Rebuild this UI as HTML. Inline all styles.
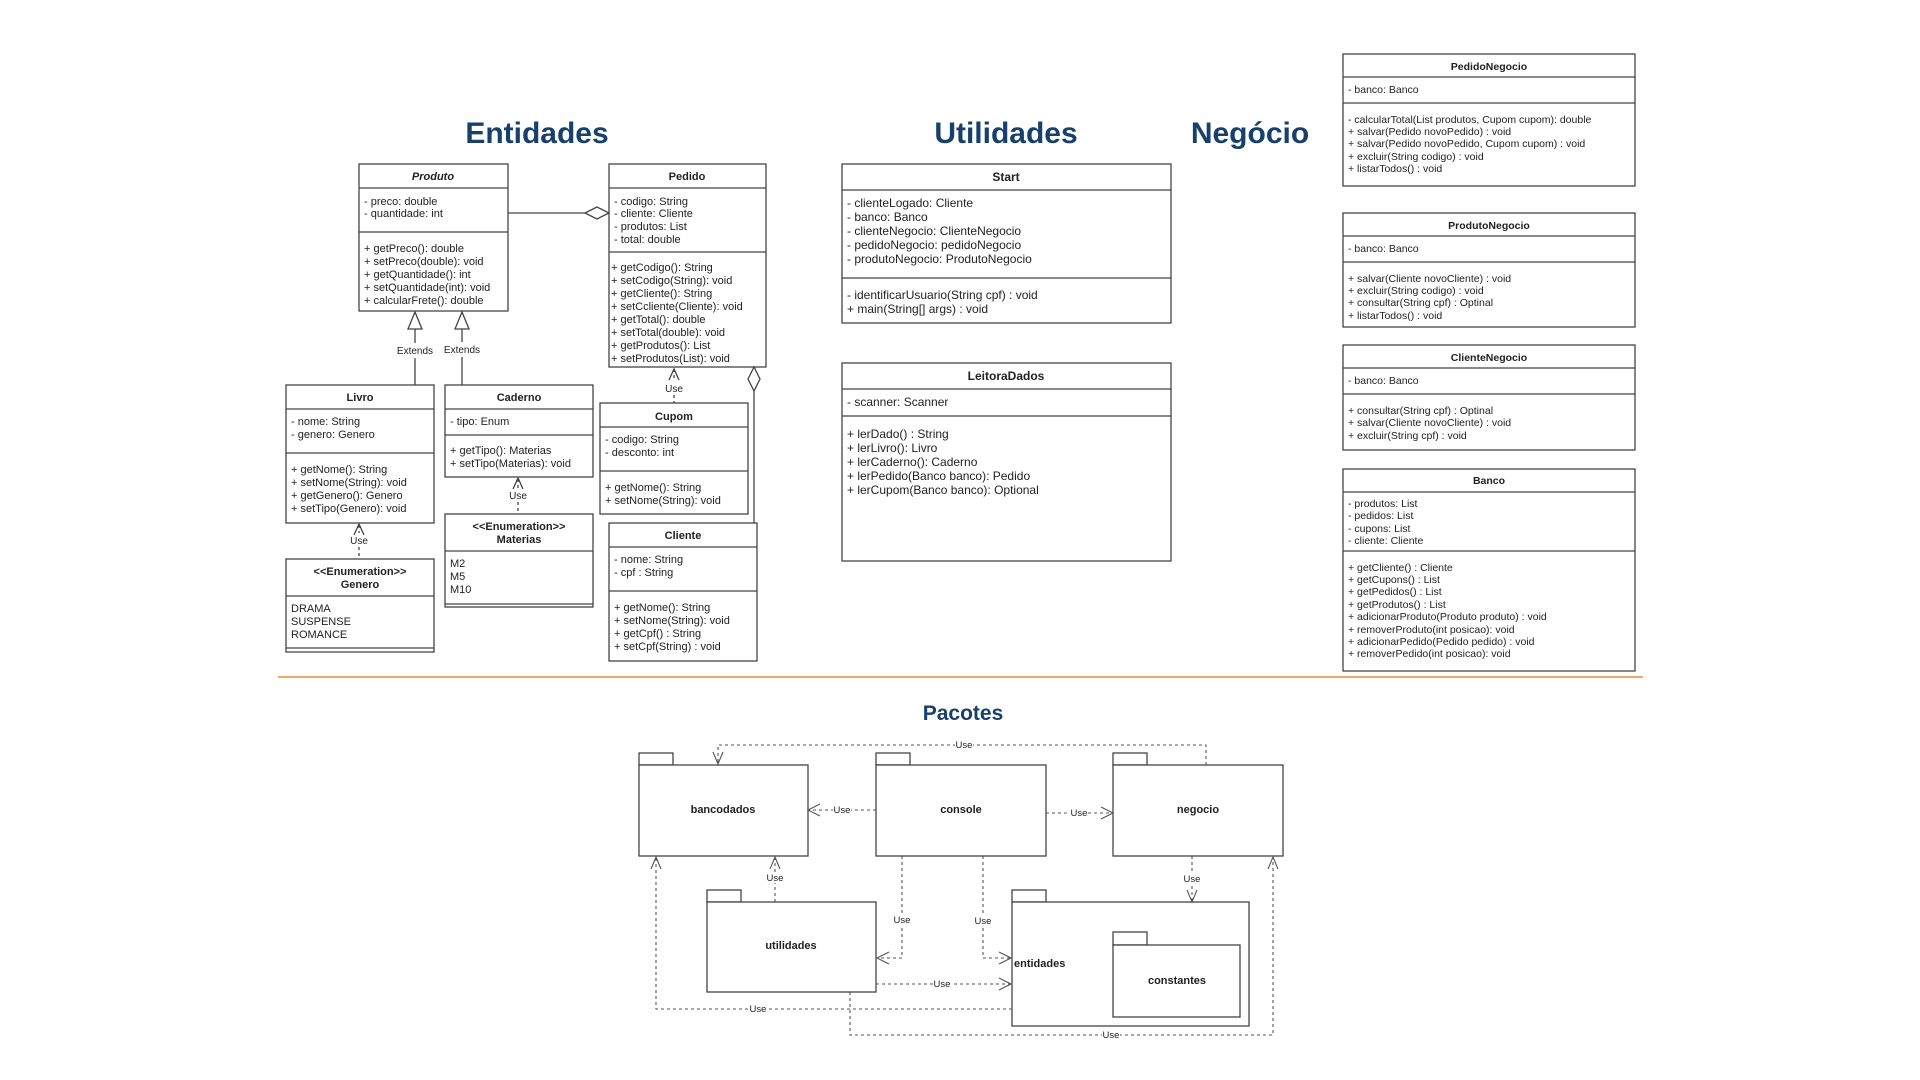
<!DOCTYPE html>
<html><head><meta charset="utf-8"><style>
html,body{margin:0;padding:0;background:#fff;}
svg{display:block;}
text{font-family:"Liberation Sans",Arial,sans-serif;fill:#222;}
.t{font-size:11px;}
.s{font-size:12px;}
.n{font-size:10.5px;}
.h{font-weight:bold;}
.title{font-size:30px;font-weight:bold;fill:#17406d;}
.u{font-size:10px;fill:#555;}
.pk{font-size:11px;font-weight:bold;}
</style></head><body>
<svg width="1920" height="1080" viewBox="0 0 1920 1080" xmlns="http://www.w3.org/2000/svg">
<g fill="none" stroke="#444" stroke-width="1.3">
<!-- Produto -->
<rect x="359" y="164" width="149" height="147"/><line x1="359" y1="188" x2="508" y2="188"/><line x1="359" y1="232" x2="508" y2="232"/>
<!-- Pedido -->
<rect x="609" y="164" width="157" height="203"/><line x1="609" y1="188" x2="766" y2="188"/><line x1="609" y1="252" x2="766" y2="252"/>
<!-- Livro -->
<rect x="286" y="385" width="148" height="138"/><line x1="286" y1="409" x2="434" y2="409"/><line x1="286" y1="453" x2="434" y2="453"/>
<!-- Caderno -->
<rect x="445" y="385" width="148" height="92"/><line x1="445" y1="409" x2="593" y2="409"/><line x1="445" y1="435" x2="593" y2="435"/>
<!-- Materias -->
<rect x="445" y="514" width="148" height="93"/><line x1="445" y1="551" x2="593" y2="551"/><line x1="445" y1="604" x2="593" y2="604"/>
<!-- Genero -->
<rect x="286" y="559" width="148" height="93"/><line x1="286" y1="596" x2="434" y2="596"/><line x1="286" y1="648" x2="434" y2="648"/>
<!-- Cupom -->
<rect x="600" y="403" width="148" height="111"/><line x1="600" y1="427" x2="748" y2="427"/><line x1="600" y1="471" x2="748" y2="471"/>
<!-- Cliente -->
<rect x="609" y="523" width="148" height="138"/><line x1="609" y1="547" x2="757" y2="547"/><line x1="609" y1="591" x2="757" y2="591"/>
<!-- Start -->
<rect x="842" y="164" width="329" height="159"/><line x1="842" y1="190" x2="1171" y2="190"/><line x1="842" y1="278" x2="1171" y2="278"/>
<!-- LeitoraDados -->
<rect x="842" y="363" width="329" height="198"/><line x1="842" y1="389" x2="1171" y2="389"/><line x1="842" y1="416" x2="1171" y2="416"/>
<!-- Negocio column -->
<rect x="1343" y="54" width="292" height="132"/><line x1="1343" y1="77" x2="1635" y2="77"/><line x1="1343" y1="103" x2="1635" y2="103"/>
<rect x="1343" y="213" width="292" height="114"/><line x1="1343" y1="236" x2="1635" y2="236"/><line x1="1343" y1="262" x2="1635" y2="262"/>
<rect x="1343" y="345" width="292" height="105"/><line x1="1343" y1="368" x2="1635" y2="368"/><line x1="1343" y1="394" x2="1635" y2="394"/>
<rect x="1343" y="469" width="292" height="202"/><line x1="1343" y1="492" x2="1635" y2="492"/><line x1="1343" y1="551" x2="1635" y2="551"/>

<!-- connectors entidades -->
<line x1="508" y1="213" x2="585" y2="213"/>
<polygon points="585,213 597,207 609,213 597,219" fill="#fff"/>
<polygon points="754,367 748,379 754,391 760,379" fill="#fff"/>
<line x1="754" y1="391" x2="754" y2="523"/>
<polygon points="415,312 408,329 422,329" fill="#fff"/>
<line x1="415" y1="329" x2="415" y2="343"/><line x1="415" y1="358" x2="415" y2="385"/>
<polygon points="462,312 455,329 469,329" fill="#fff"/>
<line x1="462" y1="329" x2="462" y2="342"/><line x1="462" y1="357" x2="462" y2="385"/>
<g stroke-dasharray="3,3">
<line x1="674" y1="369" x2="674" y2="381"/><line x1="674" y1="395" x2="674" y2="403"/>
<line x1="518" y1="479" x2="518" y2="488"/><line x1="518" y1="502" x2="518" y2="514"/>
<line x1="359" y1="525" x2="359" y2="533"/><line x1="359" y1="547" x2="359" y2="559"/>
</g>
<polyline points="669,380 674,369 679,380"/>
<polyline points="513,489 518,478 523,489"/>
<polyline points="354,535 359,524 364,535"/>
</g>
<line x1="278" y1="677" x2="1643" y2="677" stroke="#f0a868" stroke-width="2"/>

<!-- titles -->
<text class="title" x="537" y="143" text-anchor="middle">Entidades</text>
<text class="title" x="1006" y="143" text-anchor="middle">Utilidades</text>
<text class="title" x="1250" y="143" text-anchor="middle">Negócio</text>
<text x="963" y="720" text-anchor="middle" style="font-size:21px;font-weight:bold;fill:#17406d">Pacotes</text>

<!-- Produto text -->
<g class="t">
<text x="433" y="180" text-anchor="middle" class="h" font-style="italic">Produto</text>
<text x="364" y="205">- preco: double</text><text x="364" y="217">- quantidade: int</text>
<text x="364" y="252">+ getPreco(): double</text><text x="364" y="265">+ setPreco(double): void</text><text x="364" y="278">+ getQuantidade(): int</text><text x="364" y="291">+ setQuantidade(int): void</text><text x="364" y="304">+ calcularFrete(): double</text>
<text x="687" y="180" text-anchor="middle" class="h">Pedido</text>
<text x="614" y="205">- codigo: String</text><text x="614" y="217">- cliente: Cliente</text><text x="614" y="230">- produtos: List</text><text x="614" y="243">- total: double</text>
<text x="611" y="271">+ getCodigo(): String</text><text x="611" y="284">+ setCodigo(String): void</text><text x="611" y="297">+ getCliente(): String</text><text x="611" y="310">+ setCcliente(Cliente): void</text><text x="611" y="323">+ getTotal(): double</text><text x="611" y="336">+ setTotal(double): void</text><text x="611" y="349">+ getProdutos(): List</text><text x="611" y="362">+ setProdutos(List): void</text>
<text x="360" y="401" text-anchor="middle" class="h">Livro</text>
<text x="291" y="425">- nome: String</text><text x="291" y="438">- genero: Genero</text>
<text x="291" y="473">+ getNome(): String</text><text x="291" y="486">+ setNome(String): void</text><text x="291" y="499">+ getGenero(): Genero</text><text x="291" y="512">+ setTipo(Genero): void</text>
<text x="519" y="401" text-anchor="middle" class="h">Caderno</text>
<text x="450" y="425">- tipo: Enum</text>
<text x="450" y="454">+ getTipo(): Materias</text><text x="450" y="467">+ setTipo(Materias): void</text>
<text x="519" y="530" text-anchor="middle" class="h">&lt;&lt;Enumeration&gt;&gt;</text><text x="519" y="543" text-anchor="middle" class="h">Materias</text>
<text x="450" y="567">M2</text><text x="450" y="580">M5</text><text x="450" y="593">M10</text>
<text x="360" y="575" text-anchor="middle" class="h">&lt;&lt;Enumeration&gt;&gt;</text><text x="360" y="588" text-anchor="middle" class="h">Genero</text>
<text x="291" y="612">DRAMA</text><text x="291" y="625">SUSPENSE</text><text x="291" y="638">ROMANCE</text>
<text x="674" y="420" text-anchor="middle" class="h">Cupom</text>
<text x="605" y="443">- codigo: String</text><text x="605" y="456">- desconto: int</text>
<text x="605" y="491">+ getNome(): String</text><text x="605" y="504">+ setNome(String): void</text>
<text x="683" y="539" text-anchor="middle" class="h">Cliente</text>
<text x="614" y="563">- nome: String</text><text x="614" y="576">- cpf : String</text>
<text x="614" y="611">+ getNome(): String</text><text x="614" y="624">+ setNome(String): void</text><text x="614" y="637">+ getCpf() : String</text><text x="614" y="650">+ setCpf(String) : void</text>
</g>
<g class="u">
<text x="415" y="354" text-anchor="middle">Extends</text><text x="462" y="353" text-anchor="middle">Extends</text>
<text x="674" y="392" text-anchor="middle">Use</text><text x="518" y="499" text-anchor="middle">Use</text><text x="359" y="544" text-anchor="middle">Use</text>
</g>

<!-- Start / Leitora -->
<g class="s">
<text x="1006" y="181" text-anchor="middle" class="h">Start</text>
<text x="847" y="207">- clienteLogado: Cliente</text><text x="847" y="221">- banco: Banco</text><text x="847" y="235">- clienteNegocio: ClienteNegocio</text><text x="847" y="249">- pedidoNegocio: pedidoNegocio</text><text x="847" y="263">- produtoNegocio: ProdutoNegocio</text>
<text x="847" y="299">- identificarUsuario(String cpf) : void</text><text x="847" y="313">+ main(String[] args) : void</text>
<text x="1006" y="380" text-anchor="middle" class="h">LeitoraDados</text>
<text x="847" y="406">- scanner: Scanner</text>
<text x="847" y="438">+ lerDado() : String</text><text x="847" y="452">+ lerLivro(): Livro</text><text x="847" y="466">+ lerCaderno(): Caderno</text><text x="847" y="480">+ lerPedido(Banco banco): Pedido</text><text x="847" y="494">+ lerCupom(Banco banco): Optional</text>
</g>

<!-- Negocio -->
<g class="n">
<text x="1489" y="70" text-anchor="middle" class="h">PedidoNegocio</text>
<text x="1348" y="93">- banco: Banco</text>
<text x="1348" y="123">- calcularTotal(List produtos, Cupom cupom): double</text><text x="1348" y="135">+ salvar(Pedido novoPedido) : void</text><text x="1348" y="147">+ salvar(Pedido novoPedido, Cupom cupom) : void</text><text x="1348" y="160">+ excluir(String codigo) : void</text><text x="1348" y="172">+ listarTodos() : void</text>
<text x="1489" y="229" text-anchor="middle" class="h">ProdutoNegocio</text>
<text x="1348" y="252">- banco: Banco</text>
<text x="1348" y="282">+ salvar(Cliente novoCliente) : void</text><text x="1348" y="294">+ excluir(String codigo) : void</text><text x="1348" y="306">+ consultar(String cpf) : Optinal</text><text x="1348" y="319">+ listarTodos() : void</text>
<text x="1489" y="361" text-anchor="middle" class="h">ClienteNegocio</text>
<text x="1348" y="384">- banco: Banco</text>
<text x="1348" y="414">+ consultar(String cpf) : Optinal</text><text x="1348" y="426">+ salvar(Cliente novoCliente) : void</text><text x="1348" y="439">+ excluir(String cpf) : void</text>
<text x="1489" y="484" text-anchor="middle" class="h">Banco</text>
<text x="1348" y="507">- produtos: List</text><text x="1348" y="519">- pedidos: List</text><text x="1348" y="532">- cupons: List</text><text x="1348" y="544">- cliente: Cliente</text>
<text x="1348" y="571">+ getCliente() : Cliente</text><text x="1348" y="583">+ getCupons() : List</text><text x="1348" y="595">+ getPedidos() : List</text><text x="1348" y="608">+ getProdutos() : List</text><text x="1348" y="620">+ adicionarProduto(Produto produto) : void</text><text x="1348" y="633">+ removerProduto(int posicao): void</text><text x="1348" y="645">+ adicionarPedido(Pedido pedido) : void</text><text x="1348" y="657">+ removerPedido(int posicao): void</text>
</g>

<!-- Packages -->
<g fill="#fff" stroke="#444" stroke-width="1.3">
<rect x="639" y="753" width="34" height="12"/><rect x="639" y="765" width="169" height="91"/>
<rect x="876" y="753" width="34" height="12"/><rect x="876" y="765" width="170" height="91"/>
<rect x="1113" y="753" width="34" height="12"/><rect x="1113" y="765" width="170" height="91"/>
<rect x="707" y="890" width="34" height="12"/><rect x="707" y="902" width="169" height="90"/>
<rect x="1012" y="890" width="34" height="12"/><rect x="1012" y="902" width="237" height="124"/>
<rect x="1113" y="932" width="34" height="13"/><rect x="1113" y="945" width="127" height="72"/>
</g>
<g fill="none" stroke="#555" stroke-width="1.1" stroke-dasharray="3,3">
<polyline points="1206,765 1206,745 718,745 718,762"/>
<line x1="876" y1="810" x2="809" y2="810"/>
<line x1="1046" y1="813" x2="1112" y2="813"/>
<line x1="775" y1="902" x2="775" y2="858"/>
<polyline points="902,856 902,958 878,958"/>
<polyline points="983,856 983,958 1011,958"/>
<line x1="1192" y1="856" x2="1192" y2="901"/>
<line x1="876" y1="984" x2="1011" y2="984"/>
<polyline points="1012,1009 656,1009 656,858"/>
<polyline points="850,992 850,1035 1273,1035 1273,858"/>
</g>
<g fill="none" stroke="#555" stroke-width="1.1">
<polyline points="713,752 718,764 723,752"/>
<polyline points="820,804 808,810 820,816"/>
<polyline points="1101,807 1113,813 1101,819"/>
<polyline points="770,869 775,857 780,869"/>
<polyline points="889,952 877,958 889,964"/>
<polyline points="999,952 1011,958 999,964"/>
<polyline points="1187,890 1192,902 1197,890"/>
<polyline points="999,978 1011,984 999,990"/>
<polyline points="651,869 656,857 661,869"/>
<polyline points="1268,869 1273,857 1278,869"/>
</g>
<g class="u" style="font-size:9.5px">
<rect x="955" y="740" width="18" height="10" fill="#fff"/><text x="964" y="748" text-anchor="middle">Use</text>
<rect x="833" y="805" width="18" height="10" fill="#fff"/><text x="842" y="813" text-anchor="middle">Use</text>
<rect x="1070" y="808" width="18" height="10" fill="#fff"/><text x="1079" y="816" text-anchor="middle">Use</text>
<rect x="766" y="873" width="18" height="10" fill="#fff"/><text x="775" y="881" text-anchor="middle">Use</text>
<rect x="893" y="915" width="18" height="10" fill="#fff"/><text x="902" y="923" text-anchor="middle">Use</text>
<rect x="974" y="916" width="18" height="10" fill="#fff"/><text x="983" y="924" text-anchor="middle">Use</text>
<rect x="1183" y="874" width="18" height="10" fill="#fff"/><text x="1192" y="882" text-anchor="middle">Use</text>
<rect x="933" y="979" width="18" height="10" fill="#fff"/><text x="942" y="987" text-anchor="middle">Use</text>
<rect x="749" y="1004" width="18" height="10" fill="#fff"/><text x="758" y="1012" text-anchor="middle">Use</text>
<rect x="1102" y="1030" width="18" height="10" fill="#fff"/><text x="1111" y="1038" text-anchor="middle">Use</text>
</g>
<g class="pk">
<text x="723" y="813" text-anchor="middle">bancodados</text>
<text x="961" y="813" text-anchor="middle">console</text>
<text x="1198" y="813" text-anchor="middle">negocio</text>
<text x="791" y="949" text-anchor="middle">utilidades</text>
<text x="1014" y="967">entidades</text>
<text x="1177" y="984" text-anchor="middle">constantes</text>
</g>
</svg>
</body></html>
